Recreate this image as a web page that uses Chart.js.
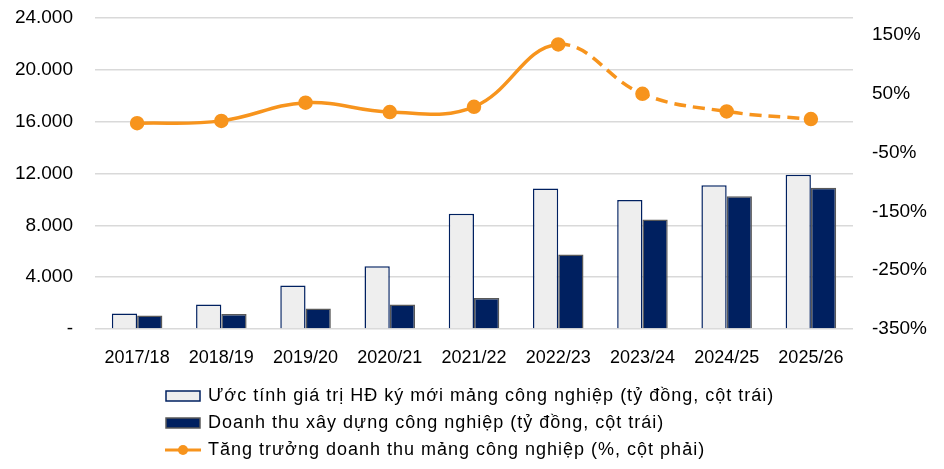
<!DOCTYPE html>
<html lang="vi">
<head>
<meta charset="UTF-8">
<title>Công nghiệp</title>
<script src="https://cdn.jsdelivr.net/npm/chart.js"></script>
<style>
  html, body { margin: 0; padding: 0; background: #fff; }
  #wrap { width: 944px; height: 469px; }
</style>
</head>
<body>
<div id="wrap"><canvas id="chart"></canvas></div>
<script>
// du lieu doc tu hinh
const nam = ['2017/18', '2018/19', '2019/20', '2020/21', '2021/22', '2022/23', '2023/24', '2024/25', '2025/26'];
const giaTriHD = [1200, 1900, 3350, 4850, 8900, 10850, 9950, 11100, 11900];
const doanhThu = [1050, 1150, 1580, 1890, 2400, 5750, 8450, 10250, 10900];
const tangTruong = [0, 4, 35, 19, 28, 134, 50, 20, 7];
const tickTrai = [0, 4000, 8000, 12000, 16000, 20000, 24000];
const tickPhai = [-350, -250, -150, -50, 50, 150];
const tenSeries = [
    'Ước tính giá trị HĐ ký mới mảng công nghiệp (tỷ đồng, cột trái)',
    'Doanh thu xây dựng công nghiệp (tỷ đồng, cột trái)',
    'Tăng trưởng doanh thu mảng công nghiệp (%, cột phải)'
];
const duBao = 5; // tu 2022/23 tro di la net dut

const cam = '#F7941D';
const navy = '#002060';
const font = 'Liberation Sans, Arial';

// ky hieu chu giai
function kyHieu(kieu) {
    const c = document.createElement('canvas');
    c.width = 36; c.height = 14;
    const g = c.getContext('2d');
    if (kieu === 'line') {
        g.strokeStyle = cam; g.lineWidth = 3;
        g.beginPath(); g.moveTo(0, 7); g.lineTo(36, 7); g.stroke();
        g.fillStyle = cam;
        g.beginPath(); g.arc(18, 7, 5, 0, Math.PI * 2); g.fill();
    } else if (kieu === 'light') {
        g.fillStyle = '#EEEEEE'; g.fillRect(1, 2, 34, 10);
        g.strokeStyle = navy; g.lineWidth = 1.5; g.strokeRect(1, 2, 34, 10);
    } else {
        g.fillStyle = navy; g.fillRect(1, 2, 34, 10);
        g.strokeStyle = '#595959'; g.lineWidth = 1.5; g.strokeRect(1, 2, 34, 10);
    }
    return c;
}
const hinh = [kyHieu('light'), kyHieu('dark'), kyHieu('line')];

const fmt = v => v === 0 ? '-' : v.toLocaleString('de-DE');

// dua chu giai ve le trai 158px, gian chu 1px
const legendLeft = {
    id: 'legendLeft',
    afterLayout(chart) {
        const lg = chart.legend;
        lg.left = 158;
        if (!lg._patched) {
            const goc = lg.draw.bind(lg);
            lg.draw = function () {
                const ctx = chart.ctx;
                ctx.letterSpacing = '1px';
                goc();
                ctx.letterSpacing = '0px';
            };
            lg._patched = true;
        }
    }
};

new Chart(document.getElementById('chart'), {
    type: 'bar',
    data: {
        labels: nam,
        datasets: [
            {
                type: 'line',
                label: tenSeries[2],
                data: tangTruong,
                yAxisID: 'y2',
                borderColor: cam,
                backgroundColor: cam,
                borderWidth: 3.5,
                pointRadius: 5.5,
                pointHoverRadius: 5.5,
                tension: 0.4,
                segment: {
                    borderDash: ctx => ctx.p0DataIndex >= duBao ? [12, 7] : undefined
                }
            },
            {
                label: tenSeries[0],
                data: giaTriHD,
                yAxisID: 'y',
                backgroundColor: '#EEEEEE',
                borderColor: navy,
                borderWidth: 1.5,
                barPercentage: 1,
                categoryPercentage: 0.6
            },
            {
                label: tenSeries[1],
                data: doanhThu,
                yAxisID: 'y',
                backgroundColor: navy,
                borderColor: '#595959',
                borderWidth: 1.5,
                barPercentage: 1,
                categoryPercentage: 0.6
            }
        ]
    },
    options: {
        responsive: true,
        maintainAspectRatio: false,
        animation: false,
        layout: { padding: { top: 18, bottom: 0, left: 0, right: 0 } },
        plugins: {
            tooltip: { enabled: false },
            legend: {
                position: 'bottom',
                align: 'start',
                labels: {
                    usePointStyle: true,
                    pointStyleWidth: 32,
                    padding: 9,
                    color: '#000',
                    font: { family: font, size: 18 },
                    generateLabels: () => [0, 1, 2].map(i => ({
                        text: tenSeries[i],
                        pointStyle: hinh[i],
                        fontColor: '#000',
                        datasetIndex: i === 2 ? 0 : i + 1,
                        lineWidth: 0
                    }))
                }
            }
        },
        scales: {
            x: {
                grid: { display: false },
                border: { display: false },
                ticks: { color: '#000', padding: 10, font: { family: font, size: 18 } },
                afterFit: s => { s.height = 49; }
            },
            y: {
                position: 'left',
                min: 0,
                max: 24000,
                afterBuildTicks: s => { s.ticks = tickTrai.map(v => ({ value: v })); },
                grid: { color: '#D9D9D9', lineWidth: 1.5, drawTicks: false },
                border: { display: false },
                ticks: { color: '#000', padding: 22, callback: v => fmt(v), font: { family: font, size: 19 } },
                afterFit: s => { s.width = 95; s.paddingTop = 0; s.paddingBottom = 0; }
            },
            y2: {
                position: 'right',
                min: -350,
                max: 179,
                afterBuildTicks: s => { s.ticks = tickPhai.map(v => ({ value: v })); },
                grid: { display: false, drawTicks: false },
                border: { display: false },
                ticks: { color: '#000', padding: 19, callback: v => v + '%', font: { family: font, size: 19 } },
                afterFit: s => { s.width = 91; s.paddingTop = 0; s.paddingBottom = 0; }
            }
        }
    },
    plugins: [legendLeft]
});
</script>
</body>
</html>
